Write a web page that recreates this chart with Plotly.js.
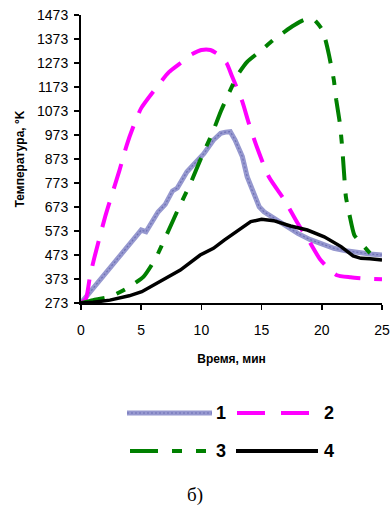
<!DOCTYPE html>
<html>
<head>
<meta charset="utf-8">
<script src="https://cdn.plot.ly/plotly-3.0.1.min.js"></script>
<style>html,body{margin:0;padding:0;background:#fff;}#chart{width:390px;height:515px;}</style>
</head>
<body>
<div id="chart"></div>
<script>
// Series 1
var time1 = [0, 1, 2, 3, 4, 5, 5.4, 6, 6.4, 7, 7.6, 8, 8.8, 9.5, 10.2, 11, 11.6, 12, 12.4, 12.8, 13.4, 13.8, 14.2, 14.8, 15.2, 16, 17, 18, 19, 20, 21, 22, 23, 24, 25];
var temp1 = [273, 334, 395, 456, 517, 577, 570, 618, 652, 684, 740, 752, 820, 858, 895, 952, 980, 985, 987, 952, 883, 799, 744, 674, 653, 628, 594, 563, 538, 520, 501, 491, 483, 477, 473];
// Series 2
var time2 = [0, 0.4, 0.75, 1.1, 2, 3.2, 3.8, 4.3, 5, 6.3, 7.3, 8.25, 9.1, 10, 10.75, 11.5, 12.1, 12.5, 13.4, 13.9, 14.6, 15.6, 16.9, 18, 18.9, 19.9, 21.2, 22.4, 23.5, 25];
var temp2 = [273, 290, 385, 460, 631, 827, 931, 1002, 1085, 1173, 1235, 1272, 1306, 1327, 1327, 1305, 1272, 1223, 1112, 1028, 924, 799, 702, 605, 535, 452, 390, 380, 375, 372];
// Series 3
var time3 = [0, 1, 2.4, 3.8, 5.2, 6.2, 7.1, 8.1, 9.1, 10, 10.9, 11.6, 12.4, 13, 13.8, 15, 16, 16.9, 17.7, 18.5, 19.3, 20, 20.3, 20.6, 21, 21.2, 21.5, 21.7, 21.85, 22, 22.3, 22.7, 23.3, 24];
var temp3 = [273, 285, 299, 334, 383, 459, 556, 667, 772, 880, 980, 1070, 1160, 1223, 1278, 1327, 1370, 1403, 1430, 1452, 1456, 1415, 1370, 1306, 1202, 1119, 1022, 918, 813, 716, 640, 556, 520, 481];
// Series 4
var time4 = [0, 1, 2.4, 4, 5.05, 6.6, 8.25, 9.9, 11, 11.9, 12.7, 13.4, 14.1, 15, 16, 17.4, 18.8, 20.2, 21.6, 22.6, 23.25, 24, 25];
var temp4 = [273, 276, 285, 303, 320, 362, 410, 473, 501, 535, 563, 590, 612, 622, 616, 594, 577, 549, 508, 469, 459, 457, 452];

var yTicks = [273, 373, 473, 573, 673, 773, 873, 973, 1073, 1173, 1273, 1373, 1473];
var xTicks = [0, 5, 10, 15, 20, 25];
var seriesNames = ['1', '2', '3', '4'];

var c1 = '#9698cf', c1d = '#6e71b6', c2 = '#ff00ff', c3 = '#008000', c4 = '#000000';
var d2 = '26px,14px', d3 = '24px,13px,9px,13px';

var traces = [
  {x: time1, y: temp1, mode: 'lines', line: {color: c1, width: 5}, name: seriesNames[0], showlegend: false},
  {x: time1, y: temp1, mode: 'lines', line: {color: c1d, width: 1.2, dash: '2px,2px'}, showlegend: false, hoverinfo: 'skip'},
  {x: time2, y: temp2, mode: 'lines', line: {color: c2, width: 4, dash: d2, shape: 'spline', smoothing: 0.6}, name: seriesNames[1], showlegend: false},
  {x: time3, y: temp3, mode: 'lines', line: {color: c3, width: 4, dash: d3, shape: 'spline', smoothing: 0.5}, name: seriesNames[2], showlegend: false},
  {x: time4, y: temp4, mode: 'lines', line: {color: c4, width: 3.5}, name: seriesNames[3], showlegend: false}
];

function px2x(p) { return (p - 81) / 301; }
function px2y(p) { return (303 - p) / 288; }

var legendRows = [
  {x0: 127, x1: 212, y: 413, color: c1, width: 5, dash: 'solid', label: seriesNames[0], lx: 221},
  {x0: 237, x1: 310, y: 413, color: c2, width: 4, dash: '28px,16px', label: seriesNames[1], lx: 329},
  {x0: 130, x1: 206, y: 451, color: c3, width: 4, dash: '28px,14px,10px,14px', label: seriesNames[2], lx: 221},
  {x0: 236, x1: 318, y: 451, color: c4, width: 4, dash: 'solid', label: seriesNames[3], lx: 329}
];
var shapes = [], annotations = [];
legendRows.forEach(function (r) {
  shapes.push({type: 'line', xref: 'paper', yref: 'paper', x0: px2x(r.x0), x1: px2x(r.x1), y0: px2y(r.y), y1: px2y(r.y), line: {color: r.color, width: r.width, dash: r.dash}});
  annotations.push({xref: 'paper', yref: 'paper', x: px2x(r.lx), y: px2y(r.y), text: r.label, showarrow: false, xanchor: 'center', yanchor: 'middle', font: {family: 'Liberation Sans, Arial', size: 18, color: '#000', weight: 'bold'}});
});
shapes.push({type: 'line', xref: 'paper', yref: 'paper', x0: px2x(127), x1: px2x(212), y0: px2y(413), y1: px2y(413), line: {color: c1d, width: 1.2, dash: '2px,2px'}});
annotations.push({xref: 'paper', yref: 'paper', x: px2x(195), y: px2y(495), text: 'б)', showarrow: false, xanchor: 'center', yanchor: 'middle', font: {family: 'Liberation Serif, Times New Roman', size: 19, color: '#000'}});

var layout = {
  width: 390, height: 515,
  margin: {l: 81, r: 8, t: 15, b: 212},
  paper_bgcolor: '#fff', plot_bgcolor: '#fff',
  showlegend: false,
  font: {family: 'Liberation Sans, Arial', color: '#000'},
  xaxis: {
    range: [0, 25], tickvals: xTicks, ticktext: xTicks.map(String),
    showgrid: false, zeroline: false, showline: true, linecolor: '#000', linewidth: 2,
    ticks: 'outside', ticklen: 5, tickwidth: 1.5, tickcolor: '#000',
    tickfont: {size: 14}, ticklabelstandoff: 8,
    title: {text: 'Время, мин', font: {size: 12, weight: 'bold'}, standoff: 18}
  },
  yaxis: {
    range: [273, 1473], tickvals: yTicks, ticktext: yTicks.map(String),
    showgrid: false, zeroline: false, showline: true, linecolor: '#000', linewidth: 2,
    ticks: 'outside', ticklen: 5, tickwidth: 1.5, tickcolor: '#000',
    tickfont: {size: 14}, ticklabelstandoff: 3,
    title: {text: 'Температура, °K', font: {size: 12, weight: 'bold'}, standoff: 10}
  },
  shapes: shapes,
  annotations: annotations
};

Plotly.newPlot('chart', traces, layout, {displayModeBar: false, staticPlot: true});
</script>
</body>
</html>
